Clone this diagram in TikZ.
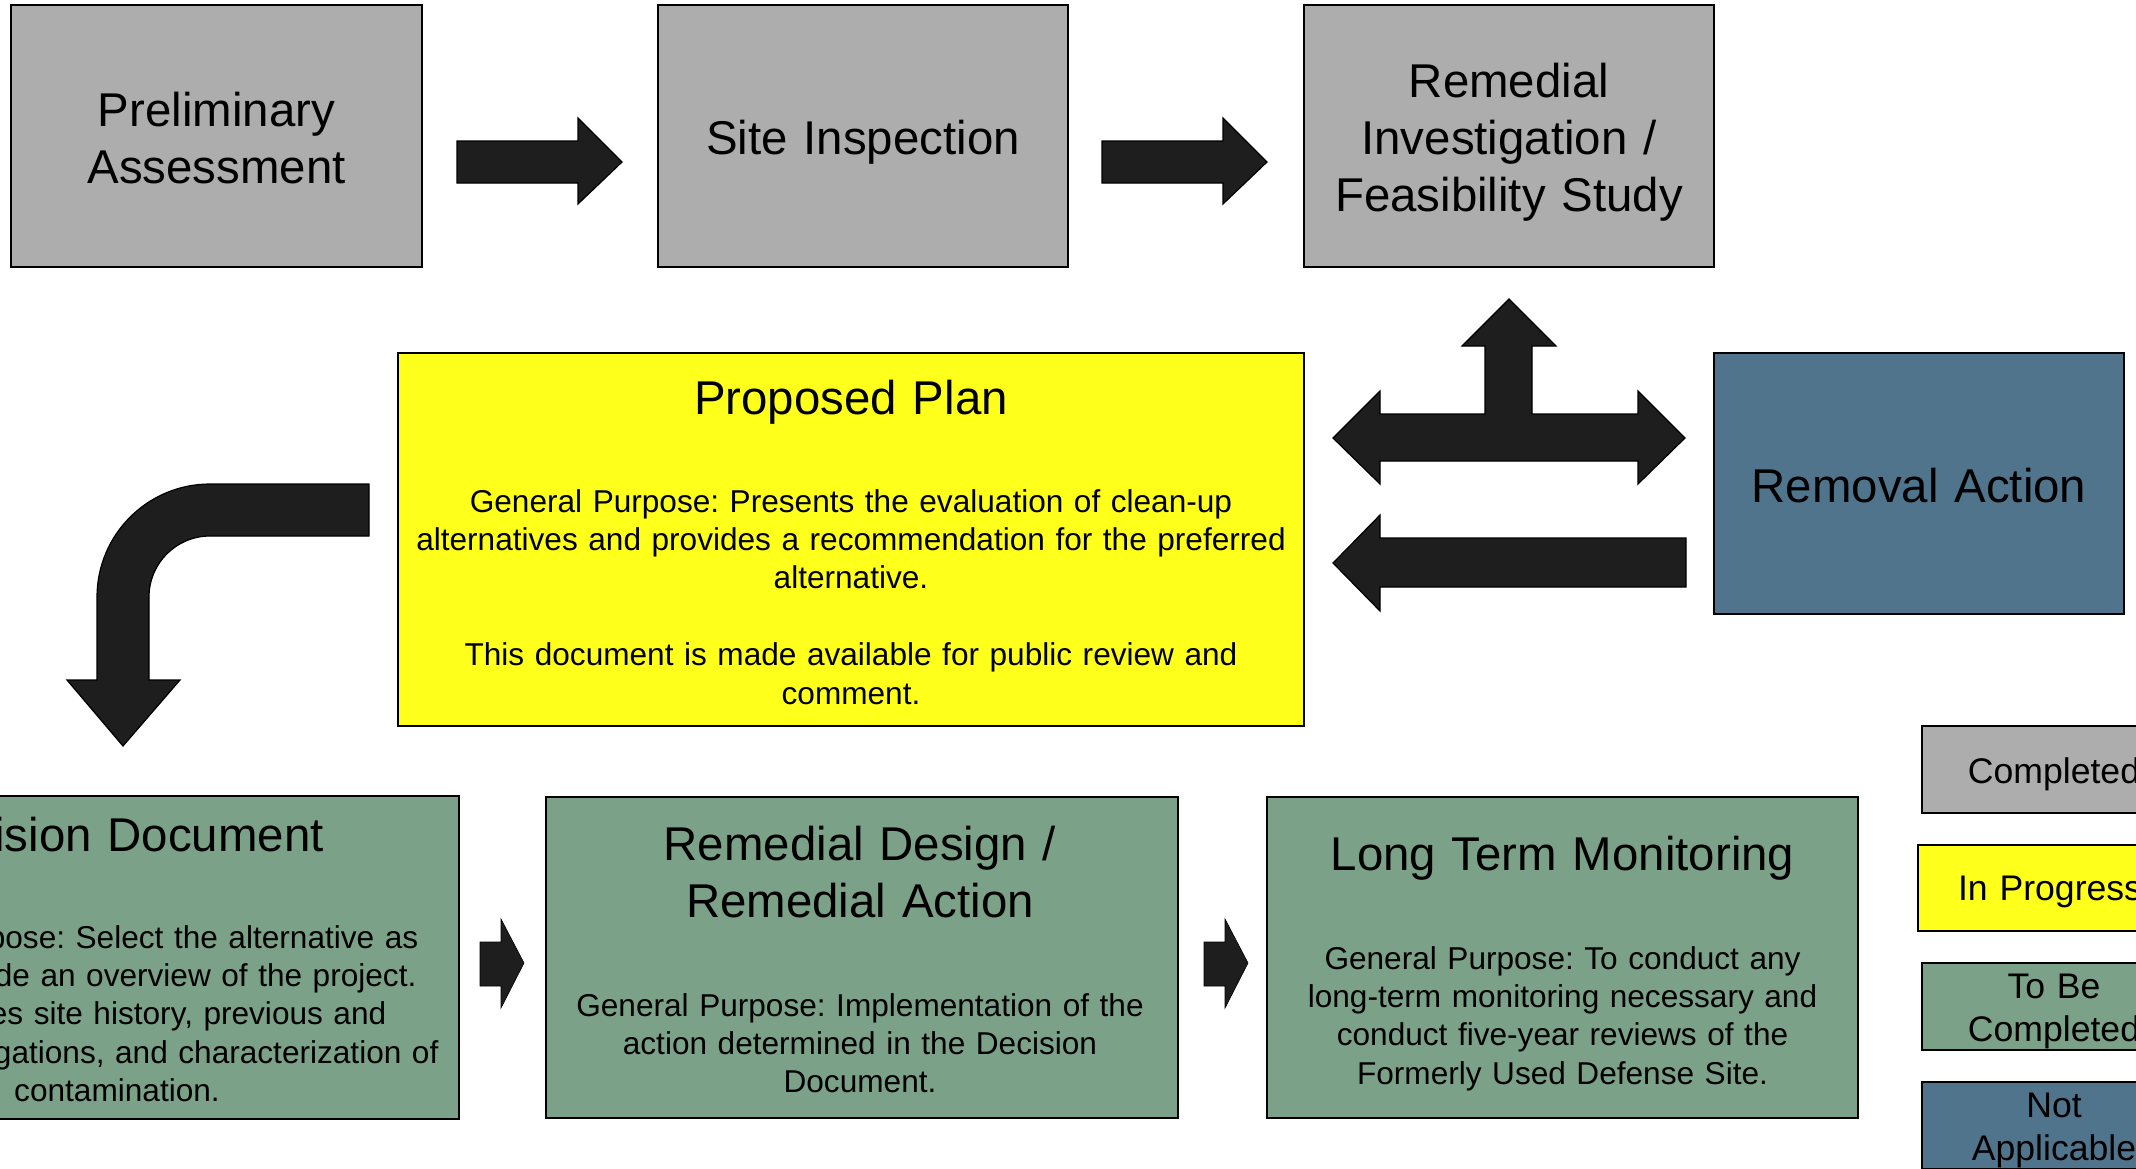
\documentclass[tikz,border=0pt]{standalone}
\usepackage{fontspec}
\setmainfont{Liberation Sans}
\frenchspacing

\definecolor{donegray}{RGB}{173,173,173}
\definecolor{progyellow}{RGB}{255,255,28}
\definecolor{todogreen}{RGB}{123,161,136}
\definecolor{nablue}{RGB}{81,116,141}
\definecolor{arrowfill}{RGB}{30,30,30}

\newcommand\ttlfont{\fontsize{47.4pt}{57.3pt}\selectfont}
\newcommand\bdyfont{\fontsize{31.6pt}{38.4pt}\selectfont}
\newcommand\lgdfont{\fontsize{35.6pt}{43pt}\selectfont}

\begin{document}
\begin{tikzpicture}[x=1pt,y=-1pt,
  stage/.style={draw=black, line width=1.6pt, inner sep=0pt, rectangle},
  txt/.style={inner sep=0pt, anchor=base, align=center, text width=#1},
  blockarrow/.style={fill=arrowfill, draw=black, line width=1.2pt, line join=miter}]

\useasboundingbox (0,0) rectangle (2136,1168);
\clip (0,0) rectangle (2136,1168);
\fill[white] (0,0) rectangle (2136,1168);

% ---- top row: completed stages ----
\node[stage, fill=donegray, minimum width=411pt, minimum height=262pt] (pa) at (216.5,136) {};
\node[stage, fill=donegray, minimum width=410pt, minimum height=262pt] (si) at (863,136) {};
\node[stage, fill=donegray, minimum width=410pt, minimum height=262pt] (rifs) at (1509,136) {};
\node[txt=400pt, font=\ttlfont] (pa-t) at (216.5,126) {Preliminary\\Assessment};
\node[txt=400pt, font=\ttlfont] (si-t) at (863,154) {Site Inspection};
\node[txt=400pt, font=\ttlfont] (rifs-t) at (1509,97) {Remedial\\Investigation /\\Feasibility Study};

% ---- middle row ----
\node[stage, fill=progyellow, minimum width=906pt, minimum height=373pt] (pp) at (851,539.5) {};
\node[txt=880pt, font=\ttlfont] (pp-t) at (851,414) {Proposed Plan};
\node[txt=900pt, font=\bdyfont] (pp-b) at (851,512)
  {General Purpose: Presents the evaluation of clean-up\\
   alternatives and provides a recommendation for the preferred\\
   alternative.\\[38.4pt]
   This document is made available for public review and\\
   comment.};

\node[stage, fill=nablue, minimum width=410pt, minimum height=261pt] (ra) at (1919,483.5) {};
\node[txt=400pt, font=\ttlfont] (ra-t) at (1919,502) {Removal Action};

% ---- bottom row: stages to be completed ----
\node[stage, fill=todogreen, minimum width=684pt, minimum height=323pt] (dd) at (117,957.5) {};
\node[txt=680pt, font=\ttlfont] (dd-t) at (117,851) {Decision Document};
\node[txt=680pt, font=\bdyfont] (dd-b) at (117,948)
  {General Purpose: Select the alternative as\\
   well as provide an overview of the project.\\
   Summarizes site history, previous and\\
   current investigations, and characterization of\\
   contamination.};

\node[stage, fill=todogreen, minimum width=632pt, minimum height=321pt] (rdra) at (862,957.5) {};
\node[txt=620pt, font=\ttlfont] (rdra-t) at (860,860) {Remedial Design /\\Remedial Action};
\node[txt=620pt, font=\bdyfont] (rdra-b) at (860,1016)
  {General Purpose: Implementation of the\\
   action determined in the Decision\\
   Document.};

\node[stage, fill=todogreen, minimum width=591pt, minimum height=321pt] (ltm) at (1562.5,957.5) {};
\node[txt=580pt, font=\ttlfont] (ltm-t) at (1562.5,870) {Long Term Monitoring};
\node[txt=580pt, font=\bdyfont] (ltm-b) at (1562.5,969)
  {General Purpose: To conduct any\\
   long-term monitoring necessary and\\
   conduct five-year reviews of the\\
   Formerly Used Defense Site.};

% ---- legend ----
\node[stage, fill=donegray, minimum width=264pt, minimum height=87pt] (lg-done) at (2054,769.5) {};
\node[txt=260pt, font=\lgdfont] at (2054,783) {Completed};
\node[stage, fill=progyellow, minimum width=264pt, minimum height=86pt] (lg-prog) at (2050,888) {};
\node[txt=260pt, font=\lgdfont] at (2050,900) {In Progress};
\node[stage, fill=todogreen, minimum width=264pt, minimum height=87pt] (lg-todo) at (2054,1006.5) {};
\node[txt=260pt, font=\lgdfont] at (2054,998) {To Be\\Completed};
\node[stage, fill=nablue, minimum width=264pt, minimum height=87pt] (lg-na) at (2054,1125.5) {};
\node[txt=260pt, font=\lgdfont] at (2054,1117) {Not\\Applicable};

% ---- block arrows ----
% preliminary assessment -> site inspection
\draw[blockarrow] (457,141) -- (578,141) -- (578,118) -- (622,162) -- (578,204) -- (578,183) -- (457,183) -- cycle;
% site inspection -> remedial investigation
\draw[blockarrow] (1102,141) -- (1223,141) -- (1223,118) -- (1267,162) -- (1223,204) -- (1223,183) -- (1102,183) -- cycle;
% three-headed arrow between proposed plan, RI/FS and removal action
\draw[blockarrow] (1333,438) -- (1380,391) -- (1380,414) -- (1485,414) -- (1485,346) -- (1462,346)
  -- (1509,299) -- (1556,346) -- (1532,346) -- (1532,414) -- (1638,414) -- (1638,391)
  -- (1685,438) -- (1638,484) -- (1638,461) -- (1380,461) -- (1380,484) -- cycle;
% removal action -> proposed plan
\draw[blockarrow] (1333,563) -- (1380,515) -- (1380,538) -- (1686,538) -- (1686,587) -- (1380,587) -- (1380,611) -- cycle;
% proposed plan -> decision document (bent)
\draw[blockarrow] (369,484) -- (210,484) .. controls (147.6,484) and (97,534.6) .. (97,597)
  -- (97,680) -- (67,680) -- (123,746) -- (180,680) -- (149,680) -- (149,597)
  .. controls (149,563.3) and (176.3,536) .. (210,536) -- (369,536) -- cycle;
% decision document -> remedial design
\draw[blockarrow, line width=0.6pt] (480,942) -- (501,942) -- (501,919) -- (524,963) -- (501,1008) -- (501,986) -- (480,986) -- cycle;
% remedial action -> long term monitoring
\draw[blockarrow, line width=0.6pt] (1204,942) -- (1225,942) -- (1225,919) -- (1248,963) -- (1225,1008) -- (1225,986) -- (1204,986) -- cycle;

\end{tikzpicture}
\end{document}
